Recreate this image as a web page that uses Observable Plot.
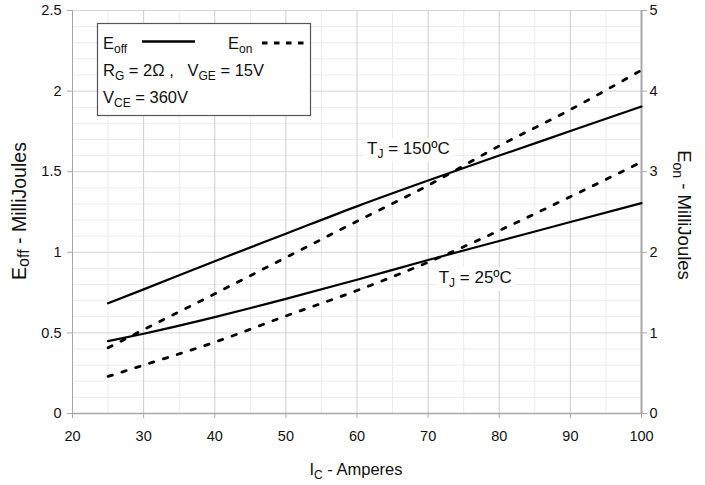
<!DOCTYPE html>
<html>
<head>
<meta charset="utf-8">
<script src="https://cdn.jsdelivr.net/npm/d3@7"></script>
<script src="https://cdn.jsdelivr.net/npm/@observablehq/plot@0.6"></script>
<style>
  body { margin: 0; background: #fff; }
  #chart svg { display: block; }
</style>
</head>
<body>
<div id="chart"></div>
<script>
// ---- data ----
const currentA = [25, 30, 40, 50, 60, 70, 80, 90, 100];          // I_C, Amperes
const eoff150 = [0.684, 0.77, 0.945, 1.115, 1.285, 1.445, 1.60, 1.752, 1.904]; // mJ, left axis
const eoff25  = [0.449, 0.495, 0.598, 0.711, 0.83, 0.952, 1.07, 1.188, 1.305]; // mJ, left axis
const eon150  = [0.815, 1.04, 1.485, 1.935, 2.385, 2.83, 3.32, 3.77, 4.26];    // mJ, right axis
const eon25   = [0.46, 0.60, 0.885, 1.21, 1.526, 1.877, 2.27, 2.69, 3.12];     // mJ, right axis

const xTicks = [20, 30, 40, 50, 60, 70, 80, 90, 100];
const xMinor = [25, 35, 45, 55, 65, 75, 85, 95];
const leftTicks = [0, 0.5, 1, 1.5, 2, 2.5];
const rightTicks = [0, 1, 2, 3, 4, 5];
const yMinor = [0.1,0.2,0.3,0.4,0.6,0.7,0.8,0.9,1.1,1.2,1.3,1.4,1.6,1.7,1.8,1.9,2.1,2.2,2.3,2.4];

// right axis (E_on) maps onto the left scale with factor 2
const onScale = 2;

const offRows = [
  ...currentA.map((c, i) => ({I: c, v: eoff150[i], s: "off150"})),
  ...currentA.map((c, i) => ({I: c, v: eoff25[i], s: "off25"}))
];
const onRows = [
  ...currentA.map((c, i) => ({I: c, v: eon150[i] / onScale, s: "on150"})),
  ...currentA.map((c, i) => ({I: c, v: eon25[i] / onScale, s: "on25"}))
];

const FONT = "'Liberation Sans', Arial, Helvetica, sans-serif";

const plot = Plot.plot({
  width: 705,
  height: 485,
  marginLeft: 72,
  marginRight: 64,
  marginTop: 10,
  marginBottom: 72,
  style: {fontFamily: FONT, fontSize: "14.5px", background: "#fff", color: "#111", overflow: "visible"},
  x: {domain: [20, 100]},
  y: {domain: [0, 2.5]},
  marks: [
    Plot.ruleX(xMinor, {stroke: "#ebebeb", strokeWidth: 1}),
    Plot.ruleY(yMinor, {stroke: "#ebebeb", strokeWidth: 1}),
    Plot.ruleX(xTicks.slice(1, -1), {stroke: "#cdcdcd", strokeWidth: 1}),
    Plot.ruleY(leftTicks.slice(1), {stroke: "#d4d4d4", strokeWidth: 1}),
    Plot.ruleX([20], {stroke: "#a8a8a8", strokeWidth: 1}),
    Plot.ruleX([100], {stroke: "#a8a8a8", strokeWidth: 2}),
    Plot.ruleY([0], {stroke: "#a8a8a8", strokeWidth: 1.5}),
    Plot.axisX({ticks: xTicks, tickSize: 5, tickPadding: 12, stroke: "#a8a8a8", fill: "#111", label: null, fontSize: 14.5}),
    Plot.axisY({anchor: "left", ticks: leftTicks, tickFormat: d => String(d), tickSize: 5, tickPadding: 6,
                stroke: "#a8a8a8", fill: "#111", label: null, fontSize: 14.5}),
    Plot.axisY({anchor: "right", ticks: rightTicks.map(d => d / onScale), tickFormat: d => String(Math.round(d * onScale)),
                tickSize: 5, tickPadding: 3, stroke: "#a8a8a8", fill: "#111", label: null, fontSize: 14.5}),
    Plot.line(offRows, {x: "I", y: "v", z: "s", stroke: "#000", strokeWidth: 2.2, curve: "monotone-x"}),
    Plot.line(onRows, {x: "I", y: "v", z: "s", stroke: "#000", strokeWidth: 2.8, strokeDasharray: "4.5,10", curve: "monotone-x"})
  ]
});

document.getElementById("chart").appendChild(plot);

const sx = plot.scale("x"), sy = plot.scale("y");
const svg = d3.select(plot);

// helper: text with subscript parts. parts: [[text, isSub], ...]
function richText(g, x, y, parts, opts = {}) {
  const t = g.append("text")
    .attr("x", x).attr("y", y)
    .attr("font-family", FONT)
    .attr("font-size", opts.size || 14)
    .attr("fill", "#111")
    .attr("text-anchor", opts.anchor || "start");
  if (opts.transform) t.attr("transform", opts.transform);
  const shift = opts.shift || 4;
  let sub = false;
  for (const [txt, isSub] of parts) {
    const ts = t.append("tspan").text(txt);
    if (isSub && !sub) { ts.attr("dy", shift).attr("font-size", opts.subSize || 10); sub = true; }
    else if (isSub) { ts.attr("font-size", opts.subSize || 10); }
    else if (!isSub && sub) { ts.attr("dy", -shift); sub = false; }
  }
  return t;
}

// axis titles
const titles = svg.append("g");
richText(titles, 356, 475, [["I", false], ["C", true], [" - Amperes", false]], {anchor: "middle", size: 16.5, subSize: 12});
richText(titles, 0, 0, [["E", false], ["off", true], [" - MilliJoules", false]],
  {anchor: "middle", size: 19.5, subSize: 16, shift: 3, transform: "translate(26,211) rotate(-90)"});
richText(titles, 0, 0, [["E", false], ["on", true], [" - MilliJoules", false]],
  {anchor: "middle", size: 18.5, subSize: 14, shift: 5, transform: "translate(678,215) rotate(90)"});

// curve annotations with white background
function note(I, E, parts) {
  const g = svg.append("g");
  const t = richText(g, sx.apply(I), sy.apply(E) + 6, parts, {anchor: "middle", size: 17, subSize: 12});
  const b = t.node().getBBox();
  g.insert("rect", "text").attr("x", b.x - 3).attr("y", b.y - 1).attr("width", b.width + 6).attr("height", b.height + 2).attr("fill", "#fff");
}
note(67.3, 1.644, [["T", false], ["J", true], [" = 150ºC", false]]);
note(76.7, 0.844, [["T", false], ["J", true], [" = 25ºC", false]]);

// legend box
const lg = svg.append("g");
lg.append("rect").attr("x", 97.5).attr("y", 23.5).attr("width", 213).attr("height", 92)
  .attr("fill", "#fff").attr("stroke", "#555").attr("stroke-width", 1.2);
richText(lg, 103, 49, [["E", false], ["off", true]], {size: 16.5, subSize: 12});
lg.append("line").attr("x1", 142).attr("x2", 195).attr("y1", 41.5).attr("y2", 41.5).attr("stroke", "#000").attr("stroke-width", 2.4);
richText(lg, 228, 49, [["E", false], ["on", true]], {size: 16.5, subSize: 12});
lg.append("line").attr("x1", 262).attr("x2", 308).attr("y1", 43).attr("y2", 43).attr("stroke", "#000").attr("stroke-width", 2.8).attr("stroke-dasharray", "5.5,6.5");
richText(lg, 103, 76, [["R", false], ["G", true], [" = 2Ω ,   V", false], ["GE", true], [" = 15V", false]], {size: 16.5, subSize: 12});
richText(lg, 103, 103, [["V", false], ["CE", true], [" = 360V", false]], {size: 16.5, subSize: 12});
</script>
</body>
</html>
